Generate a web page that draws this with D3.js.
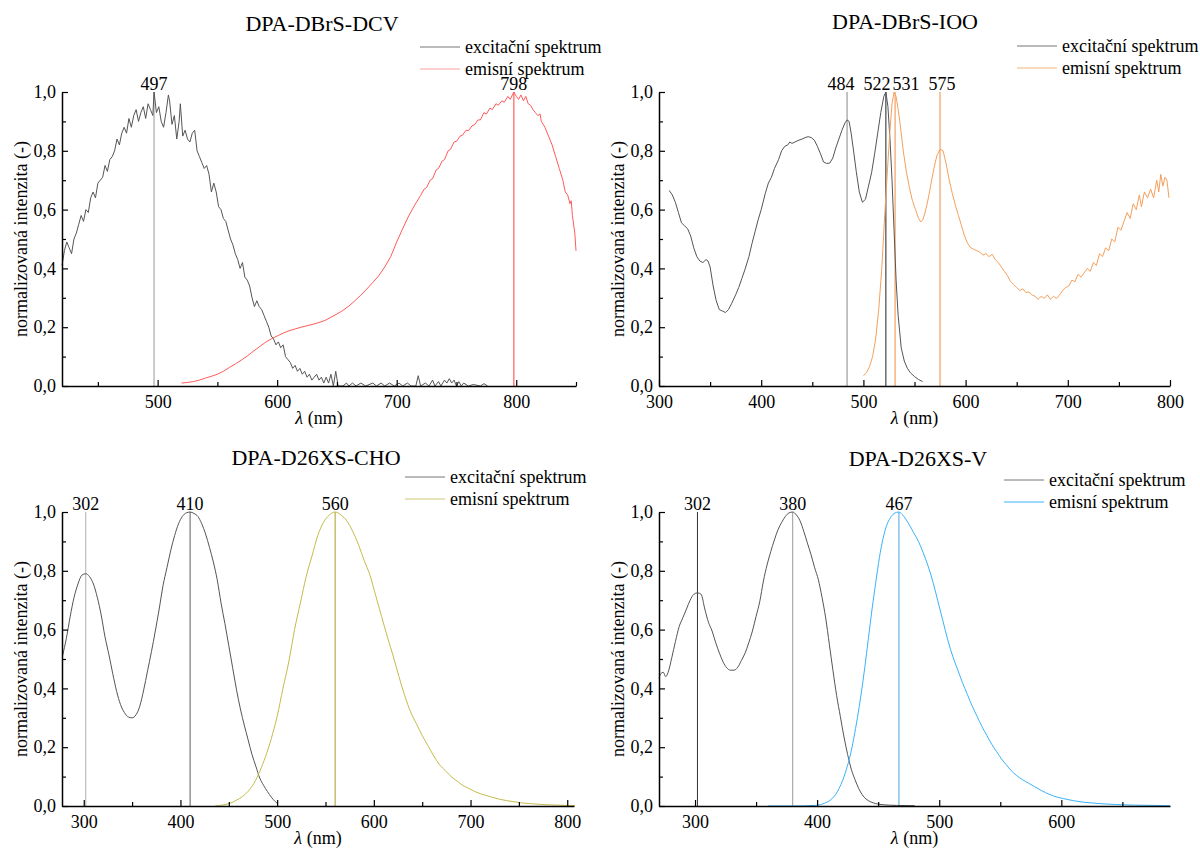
<!DOCTYPE html>
<html>
<head>
<meta charset="utf-8">
<script src="https://cdn.jsdelivr.net/npm/d3@7"></script>
<style>
  body { margin: 0; background: #fff; }
  svg text { font-family: "Liberation Serif", "Times New Roman", "DejaVu Serif", serif; fill: #000; }
</style>
</head>
<body>
<div id="chart"></div>
<script>
// --- data (wavelength nm, normalized intensity) ---
const dcvExc = [[420,0.41],[422,0.46],[424,0.49],[426,0.47],[428,0.45],[430,0.50],[432,0.52],[434,0.55],[436,0.58],[438,0.56],
  [440,0.60],[442,0.59],[444,0.64],[446,0.66],[448,0.64],[450,0.69],[452,0.70],[454,0.71],[456,0.75],[458,0.73],
  [460,0.77],[462,0.78],[464,0.80],[466,0.84],[468,0.82],[470,0.86],[472,0.88],[474,0.86],[476,0.91],[478,0.88],
  [480,0.92],[482,0.94],[484,0.90],[486,0.93],[488,0.95],[490,0.91],[492,0.96],[494,0.94],[496,0.92],[497,1.0],
  [499,0.93],[501,0.95],[503,0.90],[505,0.88],[507,0.93],[509,0.99],[510,0.97],[512,0.89],[514,0.92],[516,0.84],
  [518,0.90],[519,0.96],[521,0.85],[523,0.87],[525,0.84],[527,0.83],[529,0.86],[531,0.87],[533,0.80],[535,0.78],
  [537,0.76],[539,0.74],[541,0.75],[543,0.72],[545,0.66],[547,0.69],[549,0.66],[551,0.61],[553,0.60],[555,0.57],
  [557,0.56],[559,0.53],[561,0.50],[563,0.48],[565,0.45],[567,0.43],[569,0.40],[571,0.42],[573,0.37],[575,0.36],
  [577,0.34],[579,0.30],[581,0.27],[583,0.29],[585,0.27],[587,0.26],[589,0.24],[591,0.22],[593,0.20],[595,0.17],
  [597,0.16],[599,0.14],[601,0.15],[603,0.13],[605,0.14],[607,0.10],[609,0.09],[611,0.08],[613,0.06],[615,0.07],
  [617,0.05],[619,0.06],[621,0.04],[623,0.05],[625,0.03],[627,0.04],[629,0.02],[631,0.03],[633,0.04],[635,0.02],
  [637,0.03],[639,0.01],[641,0.03],[643,0.01],[645,0.04],[647,0.0],[649,0.05],[651,0.0],[655,0.0],[658,0.01],
  [660,0.0],[663,0.01],[666,0.0],[670,0.01],[674,0.0],[680,0.01],[683,0.0],[687,0.01],[690,0.0],[694,0.01],
  [698,0.0],[702,0.01],[705,0.0],[709,0.01],[712,0.0],[716,0.0],[718,0.035],[720,0.0],[724,0.01],[727,0.0],
  [730,0.02],[732,0.0],[735,0.015],[737,0.0],[740,0.02],[742,0.01],[744,0.025],[746,0.01],[748,0.02],[750,0.0],
  [752,0.015],[754,0.0],[756,0.01],[760,0.0],[764,0.005],[770,0.0],[773,0.008],[776,0.0]];
const dcvEm = [[520,0.01],[525,0.012],[530,0.015],[535,0.02],[540,0.027],[545,0.033],[550,0.04],[555,0.05],[560,0.063],
  [565,0.075],[570,0.088],[575,0.102],[580,0.118],[585,0.133],[590,0.148],[595,0.16],[600,0.17],[605,0.18],[610,0.188],
  [615,0.194],[620,0.2],[625,0.205],[630,0.21],[635,0.216],[640,0.223],[645,0.234],[650,0.245],[655,0.257],[660,0.272],
  [665,0.29],[670,0.309],[675,0.33],[680,0.352],[685,0.375],[690,0.405],[695,0.44],[700,0.49],[705,0.535],[710,0.578],
  [715,0.615],[720,0.648],[723,0.67],[725,0.675],[728,0.70],[730,0.705],[733,0.735],[735,0.74],[738,0.765],[740,0.77],
  [743,0.80],[745,0.805],[748,0.83],[750,0.832],[753,0.85],[755,0.853],[758,0.87],[760,0.868],[763,0.885],[765,0.888],
  [768,0.905],[770,0.905],[773,0.93],[775,0.925],[778,0.945],[780,0.94],[783,0.96],[785,0.955],[788,0.97],[790,0.965],
  [793,0.985],[795,0.975],[798,1.0],[800,0.985],[802,0.975],[804,0.99],[806,0.97],[808,0.985],[810,0.96],[812,0.955],
  [814,0.94],[816,0.93],[818,0.92],[820,0.925],[821,0.90],[824,0.88],[827,0.85],[830,0.82],[833,0.78],[836,0.74],
  [839,0.70],[841,0.66],[843,0.65],[845,0.62],[846,0.63],[847,0.58],[849,0.52],[850,0.46]];

const iooExc = [[310,0.665],[313,0.65],[316,0.625],[319,0.59],[322,0.555],[325,0.545],[328,0.535],[331,0.51],[334,0.47],
  [337,0.44],[340,0.425],[343,0.42],[346,0.43],[348,0.425],[350,0.405],[353,0.34],[356,0.29],[359,0.26],[362,0.255],
  [365,0.25],[368,0.26],[371,0.28],[375,0.31],[378,0.335],[381,0.365],[384,0.395],[388,0.44],[391,0.485],[394,0.525],
  [397,0.565],[400,0.60],[404,0.655],[407,0.69],[410,0.71],[413,0.74],[417,0.77],[420,0.80],[423,0.815],[426,0.82],
  [428,0.83],[430,0.825],[433,0.83],[436,0.835],[440,0.84],[443,0.845],[446,0.848],[449,0.845],[452,0.836],[455,0.815],
  [458,0.79],[461,0.762],[464,0.757],[467,0.758],[470,0.775],[473,0.81],[476,0.84],[479,0.87],[482,0.895],[484,0.905],
  [486,0.9],[488,0.86],[490,0.81],[493,0.73],[496,0.66],[499,0.625],[502,0.635],[505,0.68],[508,0.725],[511,0.79],
  [514,0.86],[517,0.93],[520,0.985],[522,1.0],[524,0.95],[526,0.84],[528,0.70],[530,0.53],[532,0.36],[534,0.24],
  [537,0.13],[540,0.085],[543,0.06],[546,0.045],[550,0.032],[554,0.022],[558,0.015]];
const iooEm = [[500,0.035],[503,0.045],[506,0.066],[509,0.10],[512,0.16],[515,0.26],[518,0.40],[521,0.59],[524,0.76],
  [526,0.87],[528,0.96],[530,1.0],[532,0.985],[534,0.94],[536,0.89],[539,0.80],[542,0.73],[545,0.675],[548,0.63],
  [551,0.60],[554,0.57],[556,0.558],[558,0.565],[560,0.585],[563,0.63],[566,0.685],[569,0.74],[572,0.785],[575,0.805],
  [578,0.80],[581,0.755],[584,0.70],[587,0.655],[590,0.615],[593,0.58],[596,0.545],[599,0.51],[602,0.485],[605,0.47],
  [608,0.465],[611,0.46],[614,0.455],[617,0.445],[620,0.45],[623,0.44],[626,0.448],[629,0.43],[632,0.42],[635,0.405],
  [638,0.39],[641,0.375],[644,0.355],[647,0.345],[650,0.335],[653,0.325],[656,0.33],[659,0.318],[662,0.32],[665,0.31],
  [668,0.305],[671,0.295],[674,0.305],[677,0.298],[680,0.31],[683,0.295],[686,0.305],[689,0.298],[692,0.31],[695,0.325],
  [698,0.335],[701,0.34],[704,0.36],[707,0.355],[710,0.38],[713,0.37],[716,0.385],[719,0.40],[722,0.39],[725,0.42],
  [728,0.41],[731,0.45],[734,0.44],[737,0.47],[740,0.46],[743,0.50],[746,0.49],[749,0.54],[752,0.53],[755,0.56],
  [758,0.59],[761,0.57],[764,0.62],[767,0.60],[770,0.65],[772,0.61],[775,0.66],[778,0.64],[781,0.67],[784,0.64],
  [787,0.70],[789,0.66],[791,0.72],[793,0.68],[795,0.71],[797,0.70],[799,0.64]];

const choExc = [[278,0.51],[282,0.57],[286,0.645],[290,0.71],[294,0.755],[298,0.785],[302,0.79],[306,0.78],[310,0.755],
  [314,0.71],[318,0.65],[322,0.575],[326,0.515],[330,0.45],[334,0.39],[338,0.345],[342,0.318],[346,0.303],[350,0.30],
  [354,0.31],[358,0.34],[362,0.395],[366,0.46],[370,0.525],[374,0.595],[378,0.67],[382,0.75],[386,0.81],[390,0.87],
  [394,0.92],[398,0.96],[402,0.985],[406,0.997],[410,1.0],[414,0.995],[418,0.985],[422,0.96],[426,0.925],[430,0.88],
  [434,0.83],[438,0.77],[442,0.69],[446,0.62],[450,0.545],[454,0.47],[458,0.395],[462,0.33],[466,0.275],[470,0.225],
  [474,0.175],[478,0.135],[482,0.095],[486,0.07],[490,0.049],[494,0.03],[498,0.015],[500,0.009]];
const choEm = [[436,0.0],[445,0.004],[452,0.01],[458,0.02],[464,0.032],[470,0.05],[476,0.077],[482,0.118],[488,0.168],
  [494,0.23],[500,0.305],[506,0.40],[512,0.49],[518,0.60],[524,0.69],[530,0.78],[536,0.85],[542,0.92],[548,0.965],
  [554,0.99],[560,1.0],[566,0.99],[572,0.97],[578,0.935],[584,0.89],[590,0.835],[596,0.785],[602,0.715],[608,0.645],
  [614,0.575],[620,0.51],[626,0.44],[632,0.375],[638,0.32],[644,0.28],[650,0.24],[656,0.205],[662,0.17],[668,0.14],
  [674,0.12],[680,0.10],[686,0.085],[692,0.07],[698,0.06],[704,0.05],[710,0.042],[716,0.036],[722,0.03],[730,0.023],
  [738,0.018],[746,0.014],[754,0.01],[762,0.008],[770,0.006],[780,0.004],[790,0.003],[800,0.002],[808,0.002]];

const vExc = [[270.5,0.435],[272,0.45],[274,0.455],[276,0.44],[278,0.455],[281,0.505],[284,0.56],[287,0.61],[290,0.64],
  [293,0.67],[296,0.70],[299,0.72],[302,0.725],[305,0.72],[308,0.67],[311,0.625],[314,0.595],[317,0.555],[320,0.52],
  [323,0.49],[326,0.47],[329,0.462],[332,0.462],[335,0.472],[338,0.495],[341,0.52],[344,0.555],[347,0.595],[350,0.645],
  [353,0.695],[356,0.765],[359,0.82],[362,0.865],[365,0.905],[368,0.94],[371,0.965],[374,0.985],[377,0.997],[380,1.0],
  [383,0.99],[386,0.97],[389,0.935],[392,0.895],[395,0.855],[398,0.81],[401,0.77],[404,0.71],[407,0.64],[410,0.55],
  [413,0.46],[416,0.375],[419,0.305],[422,0.235],[425,0.175],[428,0.125],[431,0.09],[434,0.06],[437,0.038],[440,0.024],
  [444,0.014],[448,0.008],[455,0.004],[465,0.002],[480,0.001]];
const vEm = [[360,0.0],[380,0.0],[398,0.002],[403,0.005],[406,0.009],[409,0.015],[412,0.024],[415,0.038],[418,0.06],
  [421,0.088],[424,0.125],[427,0.17],[430,0.23],[433,0.30],[436,0.38],[439,0.47],[442,0.57],[445,0.67],[448,0.76],
  [451,0.845],[454,0.91],[457,0.955],[460,0.98],[463,0.995],[467,1.0],[471,0.985],[475,0.96],[479,0.93],[483,0.9],
  [487,0.86],[491,0.815],[495,0.76],[499,0.695],[503,0.63],[507,0.565],[511,0.51],[515,0.465],[519,0.42],[523,0.38],
  [527,0.34],[531,0.305],[535,0.27],[539,0.24],[543,0.21],[547,0.185],[551,0.16],[555,0.14],[559,0.12],[563,0.105],
  [568,0.09],[573,0.078],[578,0.066],[584,0.052],[590,0.04],[596,0.031],[602,0.025],[610,0.018],[618,0.013],[626,0.01],
  [635,0.007],[645,0.005],[660,0.003],[675,0.002],[689,0.001]];

// peak markers
const dcvPeaks = [497, 798];
const iooPeaks = [484, 522, 531, 575];
const choPeaks = [302, 410, 560];
const vPeaks = [302, 380, 467];

const titles = ["DPA-DBrS-DCV", "DPA-DBrS-IOO", "DPA-D26XS-CHO", "DPA-D26XS-V"];
const legendLabels = ["excitační spektrum", "emisní spektrum"];
const yTicks = [0, 0.2, 0.4, 0.6, 0.8, 1.0];

const serif = '"Liberation Serif", "Times New Roman", "DejaVu Serif", serif';

const svg = d3.select("#chart").append("svg")
  .attr("width", 1200)
  .attr("height", 848);

const czFmt = d3.formatLocale({decimal: ",", thousands: " ", grouping: [3], currency: ["", ""]}).format(".1f");

const panels = [
  {title: titles[0], exc: dcvExc, em: dcvEm, peaks: dcvPeaks, domain: [420, 850], left: 62, right: 576, top: 92, bottom: 386,
   emColor: "#ff5a5a", legEm: "#f8a0a0", peakColors: ["#999", "#ff6060"], peakWidths: [1, 1.2], peakShift: [0, 0],
   xMajor: [500, 600, 700, 800], xMinor: [450, 550, 650, 750, 850],
   titleX: 322, titleY: 31, legX: 420, legY: 47, curve: d3.curveLinear},
  {title: titles[1], exc: iooExc, em: iooEm, peaks: iooPeaks, domain: [300, 800], left: 659, right: 1170, top: 92, bottom: 386,
   emColor: "#f5a05a", legEm: "#f7b37a", peakColors: ["#888", "#222", "#f4a060", "#f2c6a2"], peakWidths: [1, 1, 1.2, 2], peakShift: [-6, -9, 11, 2],
   xMajor: [300, 400, 500, 600, 700, 800], xMinor: [350, 450, 550, 650, 750],
   titleX: 905, titleY: 29, legX: 1017, legY: 46, curve: d3.curveLinear},
  {title: titles[2], exc: choExc, em: choEm, peaks: choPeaks, domain: [277.5, 807], left: 62, right: 574, top: 512, bottom: 806,
   emColor: "#c4bc4a", legEm: "#cfc874", peakColors: ["#bbb", "#777", "#b8ae48"], peakWidths: [1.2, 1.2, 1.2], peakShift: [0, 0, 0],
   xMajor: [300, 400, 500, 600, 700, 800], xMinor: [350, 450, 550, 650, 750],
   titleX: 316, titleY: 465, legX: 405, legY: 477, curve: d3.curveMonotoneX},
  {title: titles[3], exc: vExc, em: vEm, peaks: vPeaks, domain: [270.5, 689], left: 659, right: 1170, top: 512, bottom: 806,
   emColor: "#3ab2fb", legEm: "#3ab2fb", peakColors: ["#333", "#999", "#4aa6df"], peakWidths: [1, 1, 1], peakShift: [0, 0, 0],
   xMajor: [300, 400, 500, 600], xMinor: [350, 450, 550, 650],
   titleX: 918, titleY: 466, legX: 1004, legY: 480, curve: d3.curveMonotoneX}
];

const excColor = "#555";

panels.forEach(function(p){
  const g = svg.append("g");
  const x = d3.scaleLinear().domain(p.domain).range([p.left, p.right]);
  const y = d3.scaleLinear().domain([0, 1]).range([p.bottom, p.top]);

  // peak lines + labels
  g.selectAll("line.peak").data(p.peaks).enter()
    .append("line")
    .attr("x1", d => x(d)).attr("x2", d => x(d))
    .attr("y1", y(0)).attr("y2", y(1))
    .attr("stroke", (d, i) => p.peakColors[i])
    .attr("stroke-width", (d, i) => p.peakWidths[i]);

  g.selectAll("text.peak").data(p.peaks).enter()
    .append("text")
    .attr("x", (d, i) => x(d) + p.peakShift[i])
    .attr("y", p.top - 2)
    .attr("text-anchor", "middle")
    .style("font-size", "18px")
    .text(d => d);

  const line = d3.line().x(d => x(d[0])).y(d => y(d[1])).curve(p.curve);

  g.append("path").datum(p.exc)
    .attr("d", line)
    .attr("fill", "none")
    .attr("stroke", excColor)
    .attr("stroke-width", 1);

  g.append("path").datum(p.em)
    .attr("d", line)
    .attr("fill", "none")
    .attr("stroke", p.emColor)
    .attr("stroke-width", 1);

  // axes, ticks pointing inward
  g.append("g")
    .attr("transform", "translate(0," + p.bottom + ")")
    .call(d3.axisBottom(x).tickValues(p.xMajor).tickSizeInner(-6).tickSizeOuter(0).tickPadding(9).tickFormat(d3.format("d")));
  g.append("g")
    .attr("transform", "translate(0," + p.bottom + ")")
    .call(d3.axisBottom(x).tickValues(p.xMinor).tickSizeInner(-4).tickSizeOuter(0).tickFormat(""))
    .select(".domain").remove();

  g.append("g")
    .attr("transform", "translate(" + p.left + ",0)")
    .call(d3.axisLeft(y).tickValues(yTicks).tickSizeInner(-6).tickSizeOuter(0).tickPadding(6).tickFormat(czFmt));
  g.append("g")
    .attr("transform", "translate(" + p.left + ",0)")
    .call(d3.axisLeft(y).tickValues([0.1, 0.3, 0.5, 0.7, 0.9]).tickSizeInner(-4).tickSizeOuter(0).tickFormat(""))
    .select(".domain").remove();

  g.selectAll(".tick text").style("font-size", "18px");
  g.selectAll(".domain").attr("stroke-width", 1.5);
  g.selectAll(".tick line").attr("stroke-width", 1.2);

  // axis titles
  const xl = g.append("text")
    .attr("x", (p.left + p.right) / 2)
    .attr("y", p.bottom + 38)
    .attr("text-anchor", "middle")
    .style("font-size", "18px");
  xl.append("tspan").style("font-style", "italic").text("λ");
  xl.append("tspan").text(" (nm)");

  g.append("text")
    .attr("transform", "translate(" + (p.left - 35) + "," + ((p.top + p.bottom) / 2) + ") rotate(-90)")
    .attr("text-anchor", "middle")
    .style("font-size", "18px")
    .text("normalizovaná intenzita (-)");

  // title
  g.append("text")
    .attr("x", p.titleX).attr("y", p.titleY)
    .attr("text-anchor", "middle")
    .style("font-size", "22px")
    .text(p.title);

  // legend
  const legColors = ["#777", p.legEm];
  legendLabels.forEach(function(lab, i){
    const ly = p.legY + i * 22;
    g.append("line")
      .attr("x1", p.legX).attr("x2", p.legX + 40)
      .attr("y1", ly).attr("y2", ly)
      .attr("stroke", legColors[i])
      .attr("stroke-width", 1);
    g.append("text")
      .attr("x", p.legX + 45).attr("y", ly + 6)
      .style("font-size", "18px")
      .text(lab);
  });

  g.selectAll("text").attr("font-family", null).style("font-family", serif);
});
</script>
</body>
</html>
